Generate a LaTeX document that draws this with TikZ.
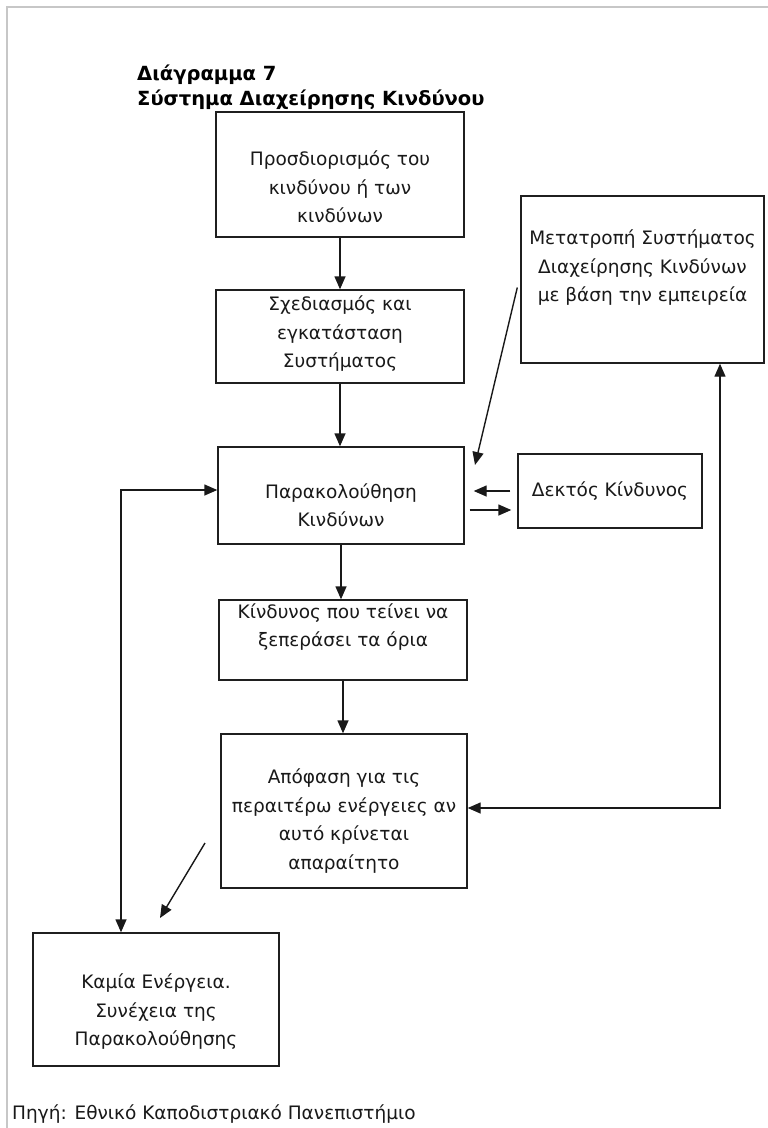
\documentclass[tikz,border=0pt]{standalone}
\usepackage{fontspec}
\setmainfont{DejaVu Sans}
\usetikzlibrary{arrows.meta,calc}
\tikzset{
  box/.style={draw=black!88, line width=1.4pt, inner sep=0pt, rectangle},
  lbl/.style={align=center, font=\fontsize{18.5}{28.5}\selectfont, text=black!90, inner sep=0pt},
  ttl/.style={font=\fontsize{19.5}{22}\selectfont\bfseries, text=black, inner sep=0pt, anchor=base west},
  arr/.style={line width=1.4pt, draw=black!90, -{Triangle[length=13pt,width=11pt]}},
  darr/.style={line width=1.4pt, draw=black!90, {Triangle[length=13pt,width=11pt]}-{Triangle[length=13pt,width=11pt]}},
  frame/.style={line width=1.5pt, draw=black!22}
}
\begin{document}
\begin{tikzpicture}[x=1pt,y=-1pt]
\useasboundingbox (0,0) rectangle (768,1128);
\fill[white] (0,0) rectangle (768,1128);
\draw[frame] (768,7) -- (7,7) -- (7,1128);

% title
\node[ttl] (t1) at (137,80) {Διάγραμμα 7};
\node[ttl] (t2) at (137,105) {Σύστημα Διαχείρησης Κινδύνου};

% boxes
\node[box, minimum width=248pt, minimum height=125pt] (b1) at (340,174.5) {};
\node[lbl] (b1t) at (340,187) {Προσδιορισμός του\\κινδύνου ή των\\κινδύνων};

\node[box, minimum width=248pt, minimum height=93pt] (b2) at (340,336.5) {};
\node[lbl] (b2t) at (340,334) {Σχεδιασμός και\\εγκατάσταση\\Συστήματος};

\node[box, minimum width=246pt, minimum height=97pt] (b3) at (341,495.5) {};
\node[lbl] (b3t) at (341,505) {Παρακολούθηση\\Κινδύνων};

\node[box, minimum width=184pt, minimum height=74pt] (dk) at (610,491) {};
\node[lbl] (dkt) at (610,491) {Δεκτός Κίνδυνος};

\node[box, minimum width=243pt, minimum height=167pt] (mt) at (642.5,279.5) {};
\node[lbl] (mtt) at (642.5,268) {Μετατροπή Συστήματος\\Διαχείρησης Κινδύνων\\με βάση την εμπειρεία};

\node[box, minimum width=248pt, minimum height=80pt] (b4) at (343,640) {};
\node[lbl] (b4t) at (343,627) {Κίνδυνος που τείνει να\\ξεπεράσει τα όρια};

\node[box, minimum width=246pt, minimum height=154pt] (b5) at (344,811) {};
\node[lbl] (b5t) at (344,821) {Απόφαση για τις\\περαιτέρω ενέργειες αν\\αυτό κρίνεται\\απαραίτητο};

\node[box, minimum width=246pt, minimum height=133pt] (kam) at (156,999.5) {};
\node[lbl] (kamt) at (156,1012) {Καμία Ενέργεια.\\Συνέχεια της\\Παρακολούθησης};

\node[lbl, anchor=west] (src) at (12,1114) {Πηγή: Εθνικό Καποδιστριακό Πανεπιστήμιο};

% vertical flow
\draw[arr] (b1.south) -- (b1.south |- b2.north);
\draw[arr] (b2.south) -- (b2.south |- b3.north);
\draw[arr] (b3.south) -- (b3.south |- b4.north);
\draw[arr] (b4.south) -- (b4.south |- b5.north);

% Dektos <-> monitoring
\draw[arr, shorten <=7pt, shorten >=9pt] (dk.west) -- (dk.west -| b3.east);
\draw[arr, shorten <=5pt, shorten >=6pt] ($(dk.west -| b3.east)+(0,19)$) -- ($(dk.west)+(0,19)$);

% Metatropi -> monitoring
\coordinate (dtip) at (475,465);
\draw[arr] ($(mt.west)+(-3,8)$) -- (dtip);

% right loop
\coordinate (rc) at (720,808);
\draw[darr] (b5.east |- rc) -- (rc) -- (rc |- mt.south);

% left loop
\coordinate (lc) at (121,490);
\draw[darr] (kam.north -| lc) -- (lc) -- (lc -| b3.west);

% decision -> no action
\coordinate (d2s) at (205,843);
\coordinate (d2e) at (160,918);
\draw[arr] (d2s) -- (d2e);
\end{tikzpicture}
\end{document}
